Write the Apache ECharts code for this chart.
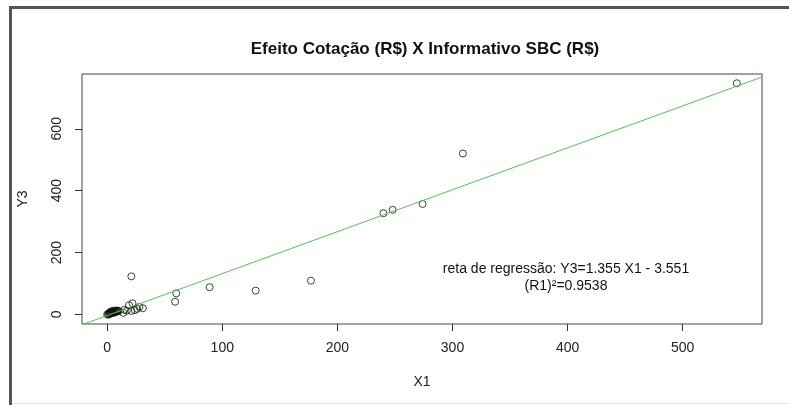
<!DOCTYPE html>
<html>
<head>
<meta charset="utf-8">
<script src="https://cdn.jsdelivr.net/npm/echarts@6/dist/echarts.min.js"></script>
<style>
html,body{margin:0;padding:0;background:#fff;}
#chart{width:789px;height:405px;}
</style>
</head>
<body>
<div id="chart"></div>
<script>
// ---- data ----
const X1 = [547, 309, 274, 248, 240, 177, 129, 89, 60, 59, 21, 22, 19, 31, 28, 26, 24, 21, 17, 15, 14,
            0, 1, 1, 2, 2, 3, 3, 4, 4, 5, 5, 6, 6, 7, 7, 8, 8, 9, 9, 10, 5, 3];
const Y3 = [747, 520, 357, 338, 327, 109, 77, 88, 68, 41, 123, 36, 30, 20, 24, 18, 14, 11, 12, 15, 5,
            0, -1, 3, 2, 5, 3, 6, 4, 8, 5, 9, 6, 11, 7, 10, 9, 13, 10, 12, 11, 12, 9];
const xTicks = [0, 100, 200, 300, 400, 500];
const yTicks = [0, 200, 400, 600];
const slope = 1.355;
const intercept = -3.551;
const titleText = 'Efeito Cotação (R$) X Informativo SBC (R$)';
const noteText = 'reta de regressão: Y3=1.355 X1 - 3.551\n(R1)²=0.9538';

// ---- R-style axis limits (4% extension) ----
const xmin0 = Math.min(...X1), xmax0 = Math.max(...X1);
const ymin0 = Math.min(...Y3), ymax0 = Math.max(...Y3);
const xMin = xmin0 - 0.04 * (xmax0 - xmin0), xMax = xmax0 + 0.04 * (xmax0 - xmin0);
const yMin = ymin0 - 0.04 * (ymax0 - ymin0), yMax = ymax0 + 0.04 * (ymax0 - ymin0);

const points = X1.map((x, i) => [x, Y3[i]]);
const fitLine = [[xMin, slope * xMin + intercept], [xMax, slope * xMax + intercept]];

const FONT = "'Liberation Sans', Arial, sans-serif";
const chart = echarts.init(document.getElementById('chart'));
chart.setOption({
  animation: false,
  backgroundColor: '#fff',
  title: {
    text: titleText,
    left: 420, top: 36,
    textAlign: 'center',
    textStyle: {fontFamily: FONT, fontSize: 17, fontWeight: 'bold', color: '#111'}
  },
  grid: {left: 82, right: 27, top: 74, bottom: 81, show: true, borderColor: '#444', borderWidth: 1, backgroundColor: '#fff'},
  xAxis: {
    type: 'value', min: xMin, max: xMax,
    name: 'X1', nameLocation: 'middle', nameGap: 51,
    nameTextStyle: {fontFamily: FONT, fontSize: 14, color: '#222'},
    axisLine: {show: false, onZero: false},
    axisTick: {show: true, length: 7, lineStyle: {color: '#333'}, customValues: xTicks},
    axisLabel: {fontFamily: FONT, fontSize: 14, color: '#222', margin: 17, customValues: xTicks},
    splitLine: {show: false}
  },
  yAxis: {
    type: 'value', min: yMin, max: yMax,
    name: 'Y3', nameLocation: 'middle', nameGap: 52,
    nameTextStyle: {fontFamily: FONT, fontSize: 14, color: '#222'},
    axisLine: {show: false, onZero: false},
    axisTick: {show: true, length: 7, lineStyle: {color: '#333'}, customValues: yTicks},
    axisLabel: {fontFamily: FONT, fontSize: 14, color: '#222', margin: 18, rotate: 90, customValues: yTicks},
    splitLine: {show: false}
  },
  series: [
    {
      type: 'scatter', data: points, symbol: 'circle', symbolSize: 7,
      itemStyle: {color: 'rgba(0,0,0,0)', borderColor: '#111', borderWidth: 1},
      z: 2
    },
    {
      type: 'line', data: fitLine, showSymbol: false, clip: true,
      lineStyle: {color: '#55c055', width: 1}, z: 3
    }
  ],
  graphic: [
    {type: 'rect', shape: {x: 9, y: 6, width: 3, height: 399}, style: {fill: '#4f565d'}, silent: true},
    {type: 'rect', shape: {x: 9, y: 6, width: 780, height: 3}, style: {fill: '#4f565d'}, silent: true},
    {type: 'rect', shape: {x: 12, y: 403, width: 777, height: 1}, style: {fill: '#e6e6e6'}, silent: true},
    {type: 'text', x: 566, y: 278, style: {text: noteText, fontFamily: FONT, fontSize: 14, fill: '#111', align: 'center', verticalAlign: 'middle', lineHeight: 17}}
  ]
});
</script>
</body>
</html>
